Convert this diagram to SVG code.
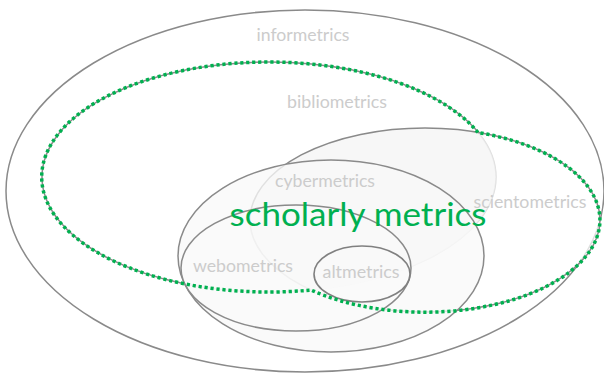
<svg xmlns="http://www.w3.org/2000/svg" width="604" height="375" viewBox="0 0 604 375">
<style>
.ln{fill:none;stroke:#8a8a8a;stroke-width:1.5}
.lbl{font-family:Lato,"Open Sans","Liberation Sans",sans-serif;fill:#cccccc;text-anchor:middle}
.big{font-family:Lato,"Open Sans","Liberation Sans",sans-serif;fill:#00b050;text-anchor:middle}
</style>
<defs>
<clipPath id="bibClip"><ellipse cx="269" cy="177" rx="227" ry="115"/></clipPath>
</defs>
<rect width="604" height="375" fill="#ffffff"/>
<g id="informetrics">
<ellipse class="ln" cx="305" cy="191" rx="299" ry="181"/>
<text class="lbl" x="303" y="41" font-size="18" textLength="93" lengthAdjust="spacingAndGlyphs">informetrics</text>
</g>
<g id="bibliometrics">
<ellipse class="ln" cx="269" cy="177" rx="227" ry="115"/>
<text class="lbl" x="337" y="108" font-size="18" textLength="100" lengthAdjust="spacingAndGlyphs">bibliometrics</text>
</g>
<g id="scientometrics">
<ellipse cx="425" cy="220" rx="175" ry="92" fill="#ffffff" fill-opacity="0.72"/>
<ellipse cx="425" cy="220" rx="175" ry="92" fill="#f2f2f2" fill-opacity="0.6" clip-path="url(#bibClip)"/>
<ellipse class="ln" cx="425" cy="220" rx="175" ry="92"/>
<text class="lbl" x="530" y="208" font-size="18" textLength="113" lengthAdjust="spacingAndGlyphs">scientometrics</text>
</g>
<g id="cybermetrics">
<ellipse cx="331" cy="256" rx="153" ry="96" fill="#f8f8f8" fill-opacity="0.78" stroke="#8a8a8a" stroke-width="1.5"/>
<text class="lbl" x="325" y="187" font-size="18" textLength="100" lengthAdjust="spacingAndGlyphs">cybermetrics</text>
</g>
<g id="webometrics">
<ellipse cx="296" cy="268" rx="115" ry="63" fill="#fafafa" fill-opacity="0.6" stroke="#8a8a8a" stroke-width="1.5"/>
<text class="lbl" x="243" y="272" font-size="18" textLength="100" lengthAdjust="spacingAndGlyphs">webometrics</text>
</g>
<g id="altmetrics">
<ellipse cx="362" cy="274" rx="48" ry="28" fill="#fafafa" fill-opacity="0.5" stroke="#808080" stroke-width="1.6"/>
<text class="lbl" x="361" y="278" font-size="18" textLength="77" lengthAdjust="spacingAndGlyphs">altmetrics</text>
</g>
<g id="scholarly-metrics">
<path d="M 478 132.5 A 227 115 0 1 0 311 290 A 175 92 0 1 0 478 132.5 Z" fill="none" stroke="#00b050" stroke-width="3.5" stroke-dasharray="3.2 2.8"/>
<text class="big" x="358" y="226" font-size="32" textLength="257" lengthAdjust="spacingAndGlyphs">scholarly metrics</text>
</g>
</svg>
